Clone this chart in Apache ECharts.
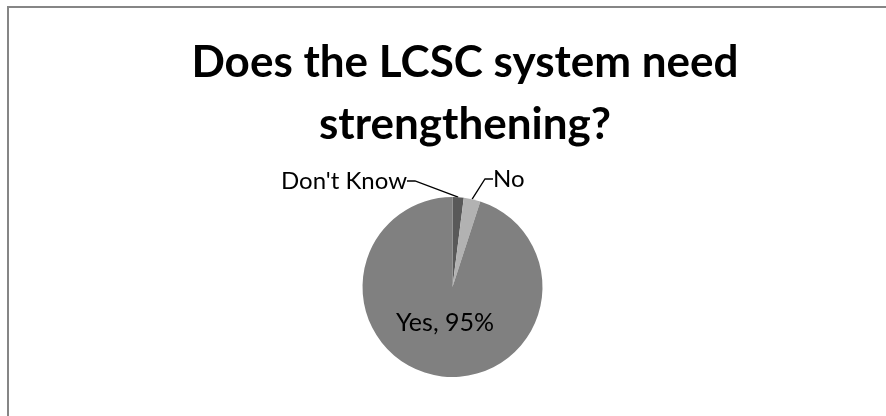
<!DOCTYPE html>
<html>
<head>
<meta charset="utf-8">
<script src="https://cdn.jsdelivr.net/npm/echarts@6/dist/echarts.min.js"></script>
<style>
  html, body { margin: 0; padding: 0; background: #ffffff; }
  #chart { width: 886px; height: 416px; }
</style>
</head>
<body>
<div id="chart"></div>
<script>
// Survey answers, percent of respondents
var categories = ["Don't Know", "No", "Yes"];
var shares = [2, 3, 95];
var sliceColors = ['#595959', '#b2b2b2', '#808080'];

var titleLines = ['Does the LCSC system need', 'strengthening?'];

var chart = echarts.init(document.getElementById('chart'));

var pieData = categories.map(function (name, i) {
  var item = { name: name, value: shares[i], itemStyle: { color: sliceColors[i] } };
  if (name === 'Yes') {
    item.label = {
      position: 'inside',
      formatter: '{b}, {c}%',
      fontSize: 25
    };
    item.labelLine = { show: false };
  }
  return item;
});

chart.setOption({
  backgroundColor: '#ffffff',
  animation: false,
  title: {
    text: titleLines.join('\n'),
    left: 460,
    top: 27,
    textAlign: 'center',
    textStyle: {
      fontFamily: 'Lato',
      fontWeight: 'bold',
      fontSize: 44,
      lineHeight: 62,
      color: '#000000'
    }
  },
  graphic: [{
    type: 'rect',
    shape: { x: 8, y: 7, width: 900, height: 430 },
    style: { fill: 'none', stroke: '#868686', lineWidth: 2 },
    silent: true
  }],
  series: [{
    type: 'pie',
    center: [452.5, 287],
    radius: [0, 90],
    startAngle: 90,
    clockwise: true,
    avoidLabelOverlap: false,
    data: pieData,
    label: {
      show: true,
      position: 'outside',
      formatter: '{b}',
      fontFamily: 'Lato',
      fontSize: 24,
      color: '#000000'
    },
    labelLine: {
      show: true,
      length: 6,
      length2: 8,
      lineStyle: { color: '#000000', width: 1.3 }
    },
    labelLayout: function (params) {
      if (params.dataIndex === 0) {
        return { x: 407, y: 181, align: 'right', verticalAlign: 'middle' };
      }
      if (params.dataIndex === 1) {
        return { x: 493, y: 179, align: 'left', verticalAlign: 'middle' };
      }
      return { dy: -11 };
    },
    emphasis: { disabled: true }
  }]
});
</script>
</body>
</html>
